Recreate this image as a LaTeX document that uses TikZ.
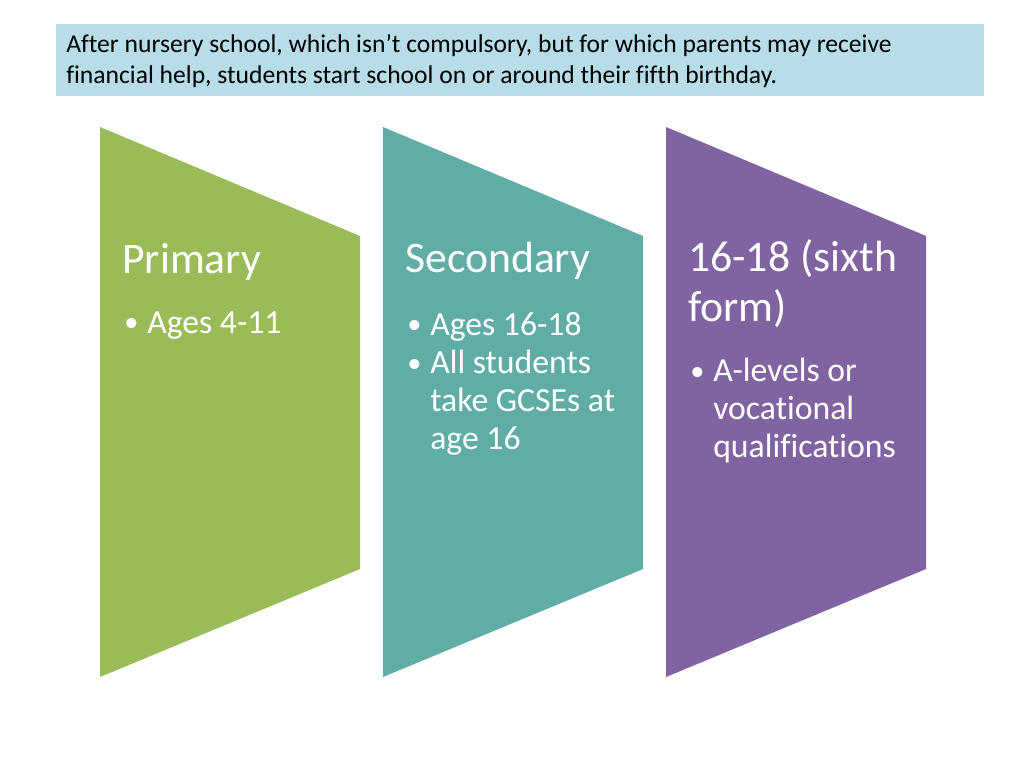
\documentclass[tikz,border=0pt]{standalone}
\usepackage{fontspec}
\setmainfont{Carlito}[Ligatures=NoCommon]
\definecolor{cgreen}{HTML}{9BBB59}
\definecolor{cteal}{HTML}{60ADA5}
\definecolor{cpurple}{HTML}{8064A2}
\definecolor{cblue}{HTML}{B7DEE8}
\tikzset{
  ttl/.style={anchor=base west, text=white, inner sep=0pt, font=\fontsize{30.7}{33}\selectfont},
  bul/.style={anchor=base west, text=white, inner sep=0pt, font=\fontsize{23.7}{27}\selectfont},
  dot/.style={anchor=base west, text=white, inner sep=0pt, font=\fontsize{20}{24}\selectfont},
  top/.style={anchor=base west, text=black, inner sep=0pt, font=\fontsize{18}{21}\selectfont},
}
\newcommand{\chev}[2]{\fill[#2] (#1,127) -- (#1+260,236) -- (#1+260,569) -- (#1,677) -- cycle;}
\begin{document}
\begin{tikzpicture}[x=0.703125pt,y=-0.703125pt]
\useasboundingbox (0,0) rectangle (1024,768);
\fill[white] (0,0) rectangle (1024,768);
\fill[cblue] (56,24) rectangle (984,96);
\node[top] (t1) at (66,53) {After nursery school, which isn’t compulsory, but for which parents may receive};
\node[top] (t2) at (66,84) {financial help, students start school on or around their fifth birthday.};
\chev{100}{cgreen}
\chev{383}{cteal}
\chev{666}{cpurple}
% primary
\node[ttl] (p1) at (122,274) {Primary};
\node[dot] (pb1) at (124,332) {•};
\node[bul] (pa1) at (147,333) {Ages 4-11};
% secondary
\node[ttl] (s1) at (405,273) {Secondary};
\node[dot] (sb1) at (407,334) {•};
\node[bul] (sa1) at (430,335) {Ages 16-18};
\node[dot] (sb2) at (407,372) {•};
\node[bul] (sa2) at (430,373) {All students};
\node[bul] (sa3) at (430,411) {take GCSEs at};
\node[bul] (sa4) at (430,449) {age 16};
% sixth form
\node[ttl] (f1) at (688,272) {16-18 (sixth};
\node[ttl] (f2) at (688,321) {form)};
\node[dot] (fb1) at (690,380) {•};
\node[bul] (fa1) at (713,381) {A-levels or};
\node[bul] (fa2) at (713,419) {vocational};
\node[bul] (fa3) at (713,457) {qualifications};
\end{tikzpicture}
\end{document}
